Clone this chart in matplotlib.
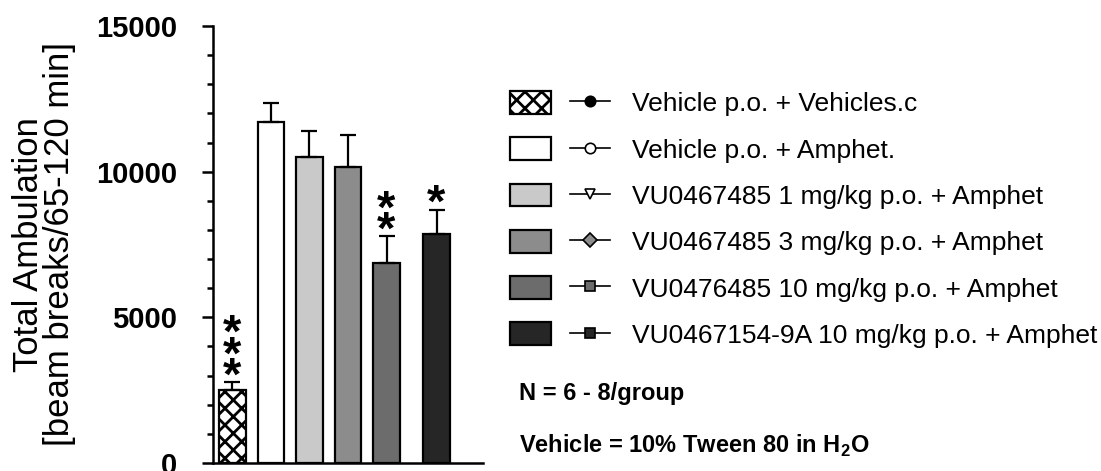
import numpy as np
import matplotlib
matplotlib.use("Agg")
import matplotlib.pyplot as plt
from matplotlib.patches import Patch
from matplotlib.lines import Line2D
from matplotlib.legend_handler import HandlerTuple
from matplotlib.ticker import MultipleLocator

plt.rcParams['font.family'] = ['Liberation Sans', 'DejaVu Sans']
plt.rcParams['mathtext.fontset'] = 'custom'
plt.rcParams['mathtext.rm'] = 'Liberation Sans:bold'
plt.rcParams['mathtext.bf'] = 'Liberation Sans:bold'
plt.rcParams['hatch.linewidth'] = 2.0

# data
groups = ["Vehicle p.o. + Vehicles.c",
          "Vehicle p.o. + Amphet.",
          "VU0467485 1 mg/kg p.o. + Amphet",
          "VU0467485 3 mg/kg p.o. + Amphet",
          "VU0476485 10 mg/kg p.o. + Amphet",
          "VU0467154-9A 10 mg/kg p.o. + Amphet"]
means = [2500, 11700, 10500, 10150, 6850, 7870]
sems = [270, 650, 900, 1100, 930, 830]
stars = [3, 0, 0, 0, 2, 1]
xpos = [0, 1, 2, 3, 4, 5.3]

bar_colors = ["white", "white", "#c9c9c9", "#8c8c8c", "#6c6c6c", "#262626"]
hatches = ["xx", None, None, None, None, None]
markers = ["o", "o", "v", "D", "s", "s"]
marker_faces = ["black", "white", "white", "#8c8c8c", "#6c6c6c", "#262626"]

fig = plt.figure(figsize=(11.01, 4.71), dpi=100)
ax = fig.add_axes([213/1101, 8/471, 270/1101, 437/471])

for i in range(len(means)):
    ax.bar(xpos[i], means[i], width=0.70, color=bar_colors[i], edgecolor="black",
           linewidth=1.6, hatch=hatches[i], zorder=2)
ax.errorbar(xpos, means, yerr=[np.zeros(len(sems)), sems], fmt="none", ecolor="black",
            elinewidth=1.6, capsize=5.5, capthick=1.6, zorder=3)

# significance stars stacked above error bars (one text per bar)
for i, n in enumerate(stars):
    if n == 0:
        continue
    ax.annotate("\n".join(["*"] * n), xy=(xpos[i], means[i] + sems[i]),
                xytext=(0, -12.7), textcoords="offset points",
                ha="center", va="bottom", fontsize=34, fontweight="bold",
                linespacing=0.336)

ax.set_xlim(-0.506, 6.506)
ax.set_ylim(0, 15000)
ax.set_xticks([])
ax.yaxis.set_major_locator(MultipleLocator(5000))
ax.yaxis.set_minor_locator(MultipleLocator(1000))
ax.tick_params(axis="y", which="major", length=8, width=1.8, pad=18, labelsize=21)
ax.tick_params(axis="y", which="minor", length=4.3, width=1.8)
for lab in ax.get_yticklabels():
    lab.set_fontweight("bold")
ax.spines["top"].set_visible(False)
ax.spines["right"].set_visible(False)
ax.spines["left"].set_linewidth(1.8)
ax.spines["bottom"].set_linewidth(1.8)

ax.set_ylabel("Total Ambulation\n[beam breaks/65-120 min]", fontsize=25,
              linespacing=0.95, va="center")
ax.yaxis.set_label_coords((44 - 213) / 270, 0.5)

handles = []
for i in range(len(groups)):
    p = Patch(facecolor=bar_colors[i], edgecolor="black", linewidth=1.6, hatch=hatches[i])
    l = Line2D([], [], color="black", linewidth=1.2, marker=markers[i], markersize=7.5,
               markerfacecolor=marker_faces[i], markeredgecolor="black", markeredgewidth=1.2)
    handles.append((p, l))

fig.legend(handles, groups, handler_map={tuple: HandlerTuple(ndivide=None, pad=0.72)},
           loc="upper left", bbox_to_anchor=(510/1101, 1 - 91/471), frameon=False,
           fontsize=19, handlelength=3.8, handleheight=0.95, handletextpad=0.83,
           labelspacing=0.79, borderpad=0, borderaxespad=0)

fig.text(519/1101, 1 - 400/471, "N = 6 - 8/group", fontsize=17, fontweight="bold",
         va="baseline")
fig.text(519/1101, 1 - 453/471, "Vehicle = 10% Tween 80 in H$_2$O", fontsize=17,
         fontweight="bold", va="baseline")

fig.savefig("out.png", dpi=100)
